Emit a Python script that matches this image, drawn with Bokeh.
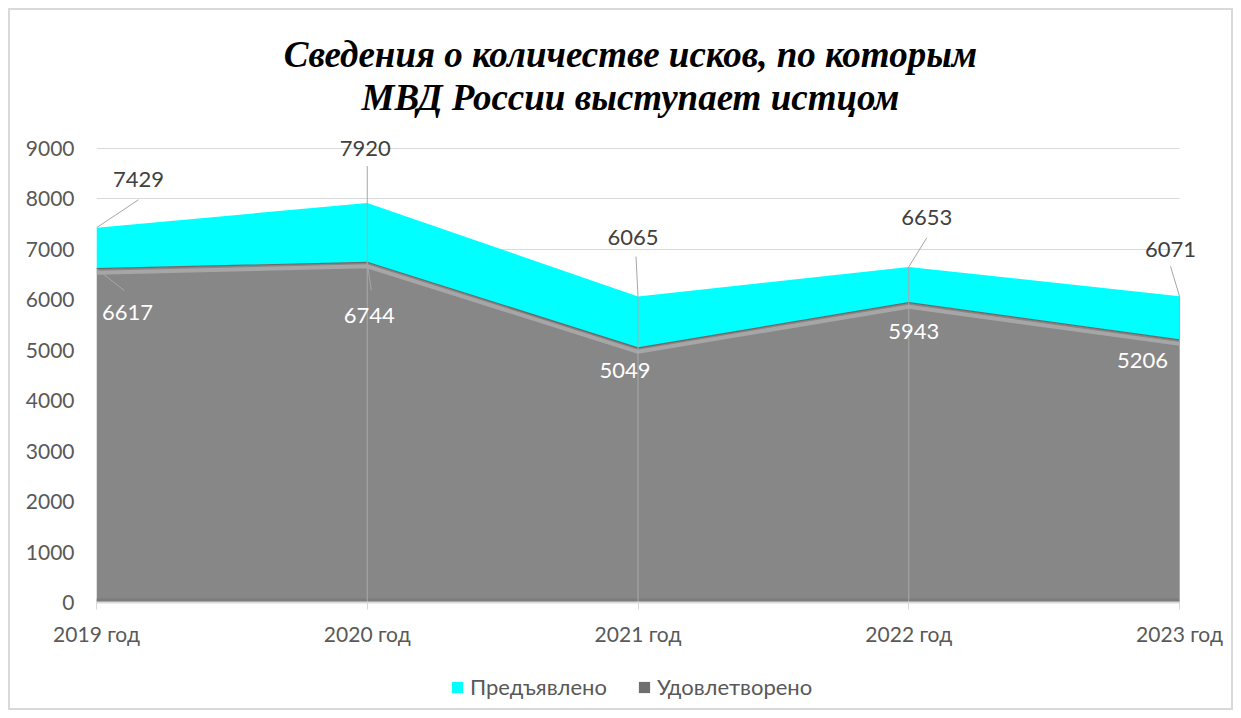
from bokeh.plotting import figure
from bokeh.layouts import column
from bokeh.models import (Label, Legend, LegendItem, FixedTicker, ColumnDataSource)
from bokeh.embed import file_html
from bokeh.resources import INLINE

# ---- data ----
years = ["2019 год", "2020 год", "2021 год", "2022 год", "2023 год"]
presented = [7429, 7920, 6065, 6653, 6071]      # Предъявлено
satisfied = [6617, 6744, 5049, 5943, 5206]      # Удовлетворено
y_ticks = [0, 1000, 2000, 3000, 4000, 5000, 6000, 7000, 8000, 9000]
title_lines = ["Сведения о количестве исков, по которым", "МВД России выступает истцом"]
series_names = ["Предъявлено", "Удовлетворено"]

# ---- layout constants (px) ----
W = 1221                      # canvas width inside the border
TH, MH, LH = 120, 534, 44     # title / main / legend heights
ML = 86                       # left margin of main frame
PLOT_W, PLOT_H = 1083, 454    # px between first/last category, 0 and top tick
PAD_R, PAD_T = 21, 12         # extra frame room for data labels
MR = W - ML - PLOT_W - PAD_R
MT = 6
MB = MH - MT - PAD_T - PLOT_H
XMAX = len(years) - 1
YMAX = y_ticks[-1]
kx = XMAX / PLOT_W
ky = YMAX / PLOT_H

FONT = "Lato"
TXT = "#595959"
xs = list(range(len(years)))


def bare(fig):
    fig.outline_line_color = None
    fig.min_border_left = fig.min_border_right = 0
    fig.min_border_top = fig.min_border_bottom = 0
    fig.grid.visible = False
    return fig


# ---- title figure ----
tf = bare(figure(width=W, height=TH, output_backend="svg", toolbar_location=None,
                 min_border=0, x_range=(0, W), y_range=(0, TH),
                 x_axis_location=None, y_axis_location=None))
for t, base in zip(title_lines, [44, 87]):   # baseline, px from top
    tf.add_layout(Label(x=W / 2, y=TH - base, x_offset=-18, text=t, text_align="center",
                        text_baseline="alphabetic", text_font="Liberation Serif",
                        text_font_style="bold italic", text_font_size="37px",
                        text_color="#000000"))

# ---- main figure ----
p = figure(width=W, height=MH, output_backend="svg", toolbar_location=None,
           x_range=(0, XMAX + PAD_R * kx), y_range=(0, YMAX + PAD_T * ky),
           min_border_left=ML, min_border_right=MR, min_border_top=MT, min_border_bottom=MB)
p.outline_line_color = None

src = ColumnDataSource(dict(x=xs, top=presented, sat=satisfied,
                            zero=[0] * len(xs),
                            hl=[v - 4 * ky for v in satisfied],
                            bot=[2 * ky] * len(xs)))

r_cyan = p.varea(x="x", y1="sat", y2="top", source=src, fill_color="#00FFFF")
r_gray = p.varea(x="x", y1="zero", y2="sat", source=src, fill_color="#878787")
p.line(x="x", y="hl", source=src, line_color="#ababab", line_width=4, line_alpha=0.85)
p.line(x="x", y="sat", source=src, line_color="#6a6a6a", line_width=1.2)
p.line(x="x", y="bot", source=src, line_color="#7c7c7c", line_width=4)

# drop lines
p.segment(x0=xs[1:], y0=presented[1:], x1=xs[1:], y1=[0] * (len(xs) - 1),
          line_color="#a9a9a9", line_width=1)

p.xgrid.grid_line_color = None
p.ygrid.grid_line_color = "#d9d9d9"
p.ygrid.ticker = FixedTicker(ticks=y_ticks)
try:
    p.ygrid.cross_bounds = (0, XMAX)
except Exception:
    pass
p.yaxis.ticker = FixedTicker(ticks=y_ticks)
p.yaxis.axis_line_color = None
p.yaxis.major_tick_line_color = None
p.yaxis.major_tick_out = 0
p.yaxis.major_tick_in = 0
p.yaxis.minor_tick_line_color = None
p.yaxis.major_label_standoff = 22
p.yaxis.major_label_text_font = FONT
p.yaxis.major_label_text_font_size = "21px"
p.yaxis.major_label_text_color = TXT

p.xaxis.ticker = FixedTicker(ticks=xs)
p.xaxis.bounds = (0, XMAX)
p.xaxis.major_label_overrides = {i: y for i, y in enumerate(years)}
p.xaxis.axis_line_color = "#d9d9d9"
p.xaxis.axis_line_width = 2
p.xaxis.major_tick_line_color = "#d9d9d9"
p.xaxis.major_tick_in = 0
p.xaxis.major_tick_out = 7
p.xaxis.minor_tick_line_color = None
p.xaxis.major_label_standoff = 11
p.xaxis.major_label_text_font = FONT
p.xaxis.major_label_text_font_size = "21px"
p.xaxis.major_label_text_color = TXT

# data labels: (dx, dy) px, dy positive = up
top_off = [(42, 48), (-2, 54), (-5, 59), (18, 49), (-9, 47)]
sat_off = [(31, -44), (2, -53), (-13, -23), (5, -29), (-37, -21)]
top_lead = [(42, 28), (0, 37), (-2, 40), (18, 29), (-9, 30)]
sat_lead = [(28, -22), (4, -28), None, None, None]

for i in range(len(xs)):
    dx, dy = top_off[i]
    p.add_layout(Label(x=xs[i], y=presented[i], x_offset=dx, y_offset=dy,
                       text=str(presented[i]), text_align="center", text_baseline="middle",
                       text_font=FONT, text_font_size="22px", text_color="#404040"))
    dx, dy = sat_off[i]
    p.add_layout(Label(x=xs[i], y=satisfied[i], x_offset=dx, y_offset=dy,
                       text=str(satisfied[i]), text_align="center", text_baseline="middle",
                       text_font=FONT, text_font_size="22px", text_color="#ffffff"))

lx0, ly0, lx1, ly1 = [], [], [], []
for i in range(len(xs)):
    ldx, ldy = top_lead[i]
    lx0.append(xs[i]); ly0.append(presented[i])
    lx1.append(xs[i] + ldx * kx); ly1.append(presented[i] + ldy * ky)
    if sat_lead[i] is not None:
        ldx, ldy = sat_lead[i]
        lx0.append(xs[i]); ly0.append(satisfied[i])
        lx1.append(xs[i] + ldx * kx); ly1.append(satisfied[i] + ldy * ky)
p.segment(x0=lx0, y0=ly0, x1=lx1, y1=ly1, line_color="#a6a6a6", line_width=1)

# ---- legend figure (swatch renderers sit outside the visible range) ----
lf = bare(figure(width=W, height=LH, output_backend="svg", toolbar_location=None,
                 min_border=0, x_range=(0, 1), y_range=(0, 1),
                 x_axis_location=None, y_axis_location=None))
hidden = ColumnDataSource(dict(x=[2, 3], y1=[2, 2], y2=[3, 3]))
l_cyan = lf.varea(x="x", y1="y1", y2="y2", source=hidden, fill_color="#00FFFF")
l_gray = lf.varea(x="x", y1="y1", y2="y2", source=hidden, fill_color="#6f6f6f")
legend = Legend(items=[LegendItem(label=series_names[0], renderers=[l_cyan]),
                       LegendItem(label=series_names[1], renderers=[l_gray])],
                orientation="horizontal", location=(354, 8),
                border_line_color=None, background_fill_alpha=0,
                label_text_font=FONT, label_text_font_size="22px", label_text_color=TXT,
                glyph_width=14, glyph_height=14, label_standoff=6, spacing=30,
                padding=0, margin=0)
lf.add_layout(legend, "center")

layout = column(tf, p, lf, spacing=0,
                styles={"margin": "8px", "border": "2px solid #d9d9d9"})

open("out.html", "w").write(file_html(layout, INLINE))
